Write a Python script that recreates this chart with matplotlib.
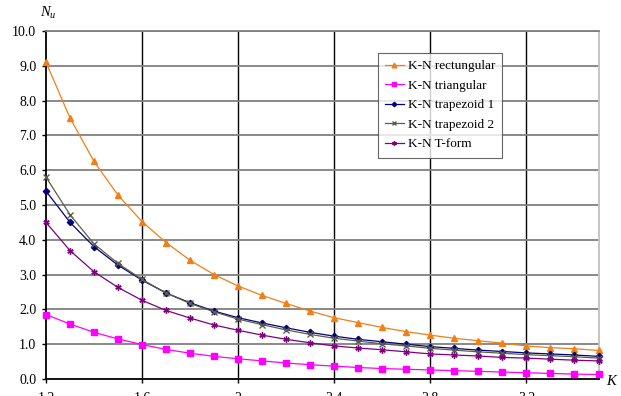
import matplotlib
matplotlib.use("Agg")
import matplotlib.pyplot as plt
import numpy as np

K = [1.2, 1.3, 1.4, 1.5, 1.6, 1.7, 1.8, 1.9, 2.0, 2.1, 2.2, 2.3,
     2.4, 2.5, 2.6, 2.7, 2.8, 2.9, 3.0, 3.1, 3.2, 3.3, 3.4, 3.5]

rectangular = [9.10, 7.50, 6.25, 5.28, 4.52, 3.92, 3.41, 3.00, 2.67, 2.40, 2.17, 1.95,
               1.76, 1.62, 1.48, 1.36, 1.26, 1.17, 1.10, 1.03, 0.95, 0.90, 0.87, 0.82]
triangular = [1.85, 1.58, 1.34, 1.15, 0.99, 0.85, 0.74, 0.65, 0.58, 0.52, 0.46, 0.41,
              0.37, 0.33, 0.30, 0.28, 0.26, 0.24, 0.22, 0.20, 0.18, 0.16, 0.14, 0.13]
trapezoid1 = [5.40, 4.50, 3.80, 3.27, 2.84, 2.47, 2.19, 1.95, 1.76, 1.61, 1.47, 1.34,
              1.23, 1.14, 1.07, 1.00, 0.93, 0.88, 0.83, 0.79, 0.75, 0.72, 0.69, 0.65]
trapezoid2 = [5.80, 4.72, 3.88, 3.32, 2.86, 2.47, 2.17, 1.93, 1.72, 1.56, 1.41, 1.28,
              1.17, 1.09, 1.01, 0.95, 0.88, 0.83, 0.78, 0.74, 0.70, 0.67, 0.64, 0.60]
tform = [4.50, 3.69, 3.08, 2.63, 2.26, 1.97, 1.75, 1.55, 1.40, 1.26, 1.14, 1.04,
         0.95, 0.89, 0.84, 0.78, 0.72, 0.69, 0.66, 0.62, 0.60, 0.57, 0.54, 0.52]

labels = ["K-N rectungular", "K-N triangular", "K-N trapezoid 1", "K-N trapezoid 2", "K-N T-form"]
xticks = [1.2, 1.6, 2.0, 2.4, 2.8, 3.2]
xticklabels = ["1.2", "1.6", "2", "2.4", "2.8", "3.2"]
yticks = [0, 1, 2, 3, 4, 5, 6, 7, 8, 9, 10]

plt.rcParams['font.family'] = ['Liberation Serif', 'DejaVu Serif']
plt.rcParams['mathtext.fontset'] = 'custom'
plt.rcParams['mathtext.it'] = 'Liberation Serif:italic'
plt.rcParams['mathtext.rm'] = 'Liberation Serif'

fig = plt.figure(figsize=(6.21, 3.96), dpi=100)
ax = fig.add_axes([46/621, 17/396, (598.5-46)/621, (379-31)/396])

ax.set_xlim(1.2, 3.5)
ax.set_ylim(0, 10)

# grid
for x in xticks[1:]:
    ax.axvline(x, color='black', lw=1.0, zorder=1)
for y in yticks[1:]:
    ax.axhline(y, color='#808080', lw=1.3, zorder=1)

series = [
    (rectangular, '#F07F17', '^', 4.8),
    (triangular, '#FF00FF', 's', 4.3),
    (trapezoid1, '#000080', 'D', 3.2),
    (trapezoid2, '#5E5E48', 'x', 3.8),
    (tform, '#800080', (6, 2, 0), 4.5),
]
for (vals, col, mk, ms), lab in zip(series, labels):
    ax.plot(K, vals, color=col, lw=0.9, marker=mk, ms=ms, mec=col, mfc=col,
            mew=1.0, label=lab, zorder=3, clip_on=False)

ax.spines['top'].set_color('#808080')
ax.spines['top'].set_linewidth(1.3)
ax.spines['right'].set_color('#C0C0C0')
ax.spines['right'].set_linewidth(1.3)
ax.spines['left'].set_color('black')
ax.spines['left'].set_linewidth(1.3)
ax.spines['bottom'].set_color('black')
ax.spines['bottom'].set_linewidth(1.3)

ax.set_xticks(xticks)
ax.set_xticklabels(xticklabels)
ax.set_yticks(yticks)
ax.set_yticklabels([f"{v:.1f}" for v in yticks])
ax.tick_params(axis='both', labelsize=10, length=3, width=1, color='black')
ax.tick_params(axis='x', pad=6)
ax.tick_params(axis='y', pad=4)

fig.text(40/621, 1 - 13/396, r'$N_u$', fontsize=10.5, ha='left', va='center')
fig.text(606/621, 1 - 381/396, r'$K$', fontsize=10.5, ha='left', va='center')

leg = ax.legend(loc='upper left', bbox_to_anchor=((378-46)/552.5, (379-53)/348),
                fontsize=9.5, frameon=True, fancybox=False, edgecolor='#404040',
                handlelength=1.4, handletextpad=0.3, borderpad=0.55, labelspacing=0.55,
                borderaxespad=0, markerscale=0.7, borderpad_h=None) if False else ax.legend(
                loc='upper left', bbox_to_anchor=((378-46)/552.5, (379-53)/348),
                fontsize=9.5, frameon=True, fancybox=False, edgecolor='#404040',
                handlelength=1.4, handletextpad=0.3, borderpad=0.55, labelspacing=0.55,
                borderaxespad=0, markerscale=0.7)
leg.get_frame().set_linewidth(0.8)
leg.set_zorder(5)

fig.savefig("out.png", dpi=100)
